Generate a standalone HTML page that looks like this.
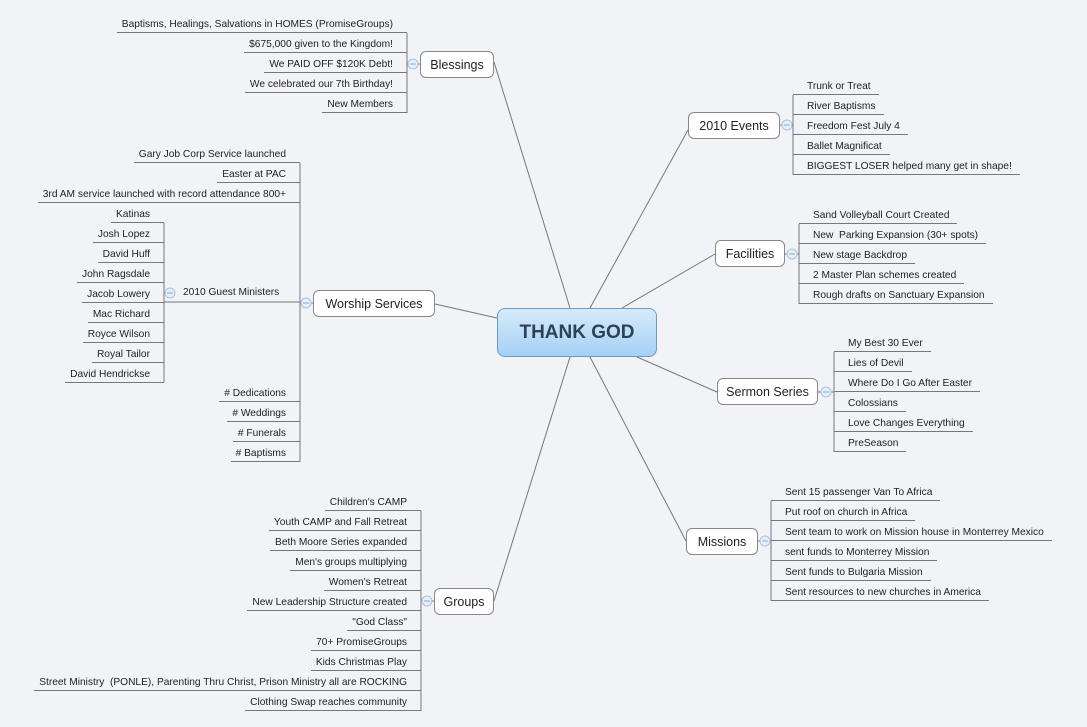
<!DOCTYPE html>
<html><head><meta charset="utf-8"><style>
body{margin:0;width:1087px;height:727px;background:#f2f3f7;position:relative;overflow:hidden;font-family:"Liberation Sans",sans-serif;}
.l{position:absolute;height:20px;line-height:23px;font-size:10.2px;color:#222;border-bottom:1px solid #777;white-space:pre;box-sizing:border-box;}
.r{padding:0 8px 0 14px;}
.lf{padding:0 14px 0 5px;text-align:right;}
.n{position:absolute;background:#fff;border:1px solid #888;border-radius:6px;font-size:12.5px;color:#222;text-align:center;box-sizing:border-box;line-height:26px;height:27px;}
.c{position:absolute;left:497px;top:308px;width:160px;height:49px;border:1px solid #6a9cc8;border-radius:8px;background:linear-gradient(#d6ebfb,#a6d0f5);box-sizing:border-box;text-align:center;line-height:47px;font-size:19px;font-weight:bold;color:#2e4256;}
svg{position:absolute;left:0;top:0}
</style></head><body>
<svg width="1087" height="727">
<g stroke="#777" stroke-width="1" fill="none">
<line x1="570" y1="308" x2="494" y2="62"/>
<line x1="590" y1="308" x2="688" y2="130"/>
<line x1="622" y1="308" x2="715" y2="254"/>
<line x1="637" y1="357" x2="717" y2="392"/>
<line x1="590" y1="357" x2="686" y2="541"/>
<line x1="570" y1="357" x2="494" y2="601"/>
<line x1="497" y1="318" x2="435" y2="304"/>
<line x1="407" y1="33" x2="407" y2="113"/><line x1="407" y1="64" x2="420" y2="64"/>
<line x1="300" y1="163" x2="300" y2="462"/><line x1="300" y1="303" x2="313" y2="303"/>
<line x1="164" y1="223" x2="164" y2="382"/><line x1="164" y1="302" x2="300" y2="302"/>
<line x1="421" y1="511" x2="421" y2="711"/><line x1="421" y1="601" x2="434" y2="601"/>
<line x1="793" y1="95" x2="793" y2="175"/><line x1="780" y1="125" x2="793" y2="125"/>
<line x1="799" y1="224" x2="799" y2="304"/><line x1="785" y1="254" x2="799" y2="254"/>
<line x1="834" y1="352" x2="834" y2="452"/><line x1="818" y1="392" x2="834" y2="392"/>
<line x1="771" y1="501" x2="771" y2="601"/><line x1="758" y1="541" x2="771" y2="541"/>
</g>
<g fill="#e6eef8" stroke="#a9c3e0">
<circle cx="413" cy="64" r="5"/><circle cx="787" cy="125" r="5"/><circle cx="792" cy="254" r="5"/><circle cx="826" cy="392" r="5"/><circle cx="765" cy="541" r="5"/><circle cx="427" cy="601" r="5"/><circle cx="306" cy="303" r="5"/><circle cx="170" cy="293" r="5"/>
</g>
<g stroke="#8aa9cc"><line x1="410" y1="64" x2="416" y2="64"/><line x1="784" y1="125" x2="790" y2="125"/><line x1="789" y1="254" x2="795" y2="254"/><line x1="823" y1="392" x2="829" y2="392"/><line x1="762" y1="541" x2="768" y2="541"/><line x1="424" y1="601" x2="430" y2="601"/><line x1="303" y1="303" x2="309" y2="303"/><line x1="167" y1="293" x2="173" y2="293"/></g>
</svg>
<div class="c">THANK GOD</div>
<div class="n" style="left:420px;top:51px;width:74px">Blessings</div>
<div class="n" style="left:688px;top:112px;width:92px">2010 Events</div>
<div class="n" style="left:715px;top:240px;width:70px">Facilities</div>
<div class="n" style="left:717px;top:378px;width:101px">Sermon Series</div>
<div class="n" style="left:686px;top:528px;width:72px">Missions</div>
<div class="n" style="left:434px;top:588px;width:60px">Groups</div>
<div class="n" style="left:313px;top:290px;width:122px">Worship Services</div>

<div class="l lf" style="right:680px;top:13px">Baptisms, Healings, Salvations in HOMES (PromiseGroups)</div>
<div class="l lf" style="right:680px;top:33px">$675,000 given to the Kingdom!</div>
<div class="l lf" style="right:680px;top:53px">We PAID OFF $120K Debt!</div>
<div class="l lf" style="right:680px;top:73px">We celebrated our 7th Birthday!</div>
<div class="l lf" style="right:680px;top:93px">New Members</div>

<div class="l lf" style="right:787px;top:143px">Gary Job Corp Service launched</div>
<div class="l lf" style="right:787px;top:163px">Easter at PAC</div>
<div class="l lf" style="right:787px;top:183px">3rd AM service launched with record attendance 800+</div>
<div style="position:absolute;left:183px;top:287px;font-size:10.2px;color:#222">2010 Guest Ministers</div>
<div class="l lf" style="right:787px;top:382px"># Dedications</div>
<div class="l lf" style="right:787px;top:402px"># Weddings</div>
<div class="l lf" style="right:787px;top:422px"># Funerals</div>
<div class="l lf" style="right:787px;top:442px"># Baptisms</div>

<div class="l lf" style="right:923px;top:203px">Katinas</div>
<div class="l lf" style="right:923px;top:223px">Josh Lopez</div>
<div class="l lf" style="right:923px;top:243px">David Huff</div>
<div class="l lf" style="right:923px;top:263px">John Ragsdale</div>
<div class="l lf" style="right:923px;top:283px">Jacob Lowery</div>
<div class="l lf" style="right:923px;top:303px">Mac Richard</div>
<div class="l lf" style="right:923px;top:323px">Royce Wilson</div>
<div class="l lf" style="right:923px;top:343px">Royal Tailor</div>
<div class="l lf" style="right:923px;top:363px">David Hendrickse</div>

<div class="l lf" style="right:666px;top:491px">Children's CAMP</div>
<div class="l lf" style="right:666px;top:511px">Youth CAMP and Fall Retreat</div>
<div class="l lf" style="right:666px;top:531px">Beth Moore Series expanded</div>
<div class="l lf" style="right:666px;top:551px">Men's groups multiplying</div>
<div class="l lf" style="right:666px;top:571px">Women's Retreat</div>
<div class="l lf" style="right:666px;top:591px">New Leadership Structure created</div>
<div class="l lf" style="right:666px;top:611px">"God Class"</div>
<div class="l lf" style="right:666px;top:631px">70+ PromiseGroups</div>
<div class="l lf" style="right:666px;top:651px">Kids Christmas Play</div>
<div class="l lf" style="right:666px;top:671px">Street Ministry  (PONLE), Parenting Thru Christ, Prison Ministry all are ROCKING</div>
<div class="l lf" style="right:666px;top:691px">Clothing Swap reaches community</div>

<div class="l r" style="left:793px;top:75px">Trunk or Treat</div>
<div class="l r" style="left:793px;top:95px">River Baptisms</div>
<div class="l r" style="left:793px;top:115px">Freedom Fest July 4</div>
<div class="l r" style="left:793px;top:135px">Ballet Magnificat</div>
<div class="l r" style="left:793px;top:155px">BIGGEST LOSER helped many get in shape!</div>

<div class="l r" style="left:799px;top:204px">Sand Volleyball Court Created</div>
<div class="l r" style="left:799px;top:224px">New  Parking Expansion (30+ spots)</div>
<div class="l r" style="left:799px;top:244px">New stage Backdrop</div>
<div class="l r" style="left:799px;top:264px">2 Master Plan schemes created</div>
<div class="l r" style="left:799px;top:284px">Rough drafts on Sanctuary Expansion</div>

<div class="l r" style="left:834px;top:332px">My Best 30 Ever</div>
<div class="l r" style="left:834px;top:352px">Lies of Devil</div>
<div class="l r" style="left:834px;top:372px">Where Do I Go After Easter</div>
<div class="l r" style="left:834px;top:392px">Colossians</div>
<div class="l r" style="left:834px;top:412px">Love Changes Everything</div>
<div class="l r" style="left:834px;top:432px">PreSeason</div>

<div class="l r" style="left:771px;top:481px">Sent 15 passenger Van To Africa</div>
<div class="l r" style="left:771px;top:501px">Put roof on church in Africa</div>
<div class="l r" style="left:771px;top:521px">Sent team to work on Mission house in Monterrey Mexico</div>
<div class="l r" style="left:771px;top:541px">sent funds to Monterrey Mission</div>
<div class="l r" style="left:771px;top:561px">Sent funds to Bulgaria Mission</div>
<div class="l r" style="left:771px;top:581px">Sent resources to new churches in America</div>
</body></html>
